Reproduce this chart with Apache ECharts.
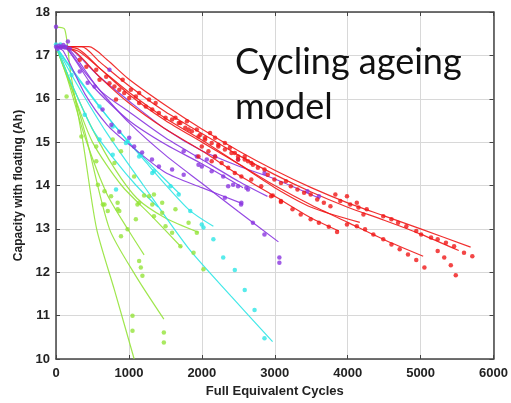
<!DOCTYPE html>
<html>
<head>
<meta charset="utf-8">
<script src="https://cdn.jsdelivr.net/npm/echarts@6/dist/echarts.min.js"></script>
<style>
html,body{margin:0;padding:0;background:#fff;}
#chart{width:511px;height:403px;}
</style>
</head>
<body>
<div id="chart"></div>
<script>
// ---- axis ticks ----
const xTicks = [0, 1000, 2000, 3000, 4000, 5000, 6000];
const yTicks = [10, 11, 12, 13, 14, 15, 16, 17, 18];
const xTitle = 'Full Equivalent Cycles';
const yTitle = 'Capacity with floating (Ah)';
const noteLines = ['Cycling ageing', 'model'];

// ---- model lines (cycles, Ah) ----
const greenLine1 = [[0,17.65],[120,17.6],[200,16.6],[370,15.0],[557,13.0],[800,11.6],[1072,10.0]];
const greenLine2 = [[0,17.2],[150,16.5],[400,15.1],[700,13.8],[1000,12.95],[1208,12.4]];
const greenLine3 = [[0,17.2],[150,16.6],[400,15.2],[733,13.0],[1100,11.9],[1479,10.92]];
const greenLine4 = [[0,17.2],[200,16.3],[500,15.0],[900,14.0],[1316,13.29],[1723,12.57]];
const greenLine5 = [[0,17.2],[200,16.4],[500,15.3],[800,14.4],[1113,13.7],[1500,13.25],[1954,12.92]];

const cyanLine1 = [[0,17.2],[300,16.3],[700,15.2],[1200,14.0],[1818,12.55],[2400,11.45],[2970,10.4]];
const cyanLine2 = [[0,17.2],[300,16.5],[700,15.6],[1200,14.6],[1818,13.45],[2158,13.06]];
const cyanLine3 = [[0,17.2],[200,16.7],[600,15.8],[1000,15.0],[1400,14.3],[1700,13.8]];
const cyanLine4 = [[0,17.2],[200,16.4],[500,15.3],[800,14.6],[1100,14.0],[1400,13.5]];

const purpleLine1 = [[0,17.2],[150,17.15],[400,16.6],[700,16.0],[1000,15.45],[1500,14.7],[2000,14.05],[2500,13.4],[3050,12.7]];
const purpleLine2 = [[0,17.2],[100,17.1],[400,16.1],[700,15.4],[1000,14.95],[1500,14.3],[2000,13.95],[2530,13.6]];
const purpleLine3 = [[0,17.2],[150,17.15],[500,16.3],[1000,15.5],[1500,14.95],[2000,14.5],[2565,13.95]];
const purpleLine4 = [[0,17.2],[200,17.15],[600,16.5],[1000,15.95],[1500,15.3],[2000,14.8],[2500,14.45],[3000,14.15],[3620,13.7]];
const purpleLine5 = [[0,17.2],[200,17.1],[600,16.2],[1000,15.7],[1500,15.1],[2000,14.6],[2500,14.1],[2900,13.75]];

const redLine1 = [[0,17.2],[450,17.2],[700,16.9],[1000,16.45],[1500,15.85],[2000,15.3],[2500,14.8],[3000,14.35],[3500,13.95],[4000,13.6],[4500,13.3],[5000,13.0],[5686,12.58]];
const redLine2 = [[0,17.2],[350,17.2],[600,16.85],[1000,16.3],[1500,15.7],[2000,15.2],[2500,14.7],[3000,14.25],[3500,13.85],[4000,13.5],[4500,13.2],[5000,12.88],[5523,12.5]];
const redLine3 = [[0,17.2],[300,17.15],[600,16.7],[1000,16.1],[1500,15.5],[2000,15.0],[2500,14.5],[3000,14.0],[3500,13.55],[4000,13.15],[4500,12.75],[5035,12.37]];
const redLine4 = [[0,17.2],[250,17.1],[600,16.5],[1000,15.9],[1500,15.3],[2000,14.8],[2500,14.25],[3000,13.75],[3500,13.25],[3880,12.95]];
const redLine5 = [[0,17.2],[300,17.1],[600,16.7],[1000,16.15],[1500,15.55],[2000,15.05],[2500,14.5],[3000,13.95],[3500,13.5],[4166,13.15]];

// ---- measured points (cycles, Ah) ----
const greenPoints = [[145,16.05],[348,15.13],[552,14.56],[552,14.9],[574,14.02],[642,13.56],[665,13.87],[665,13.56],[710,13.41],[755,13.75],[778,15.06],[801,14.52],[845,13.6],[845,13.45],[868,13.41],[891,14.79],[891,12.83],[981,12.99],[1049,11.0],[1049,10.65],[1072,14.21],[1095,13.22],[1117,13.56],[1140,13.6],[1140,12.26],[1163,12.11],[1185,11.92],[1208,13.77],[1276,13.75],[1320,13.56],[1343,13.29],[1343,13.79],[1456,13.6],[1456,13.37],[1479,10.61],[1479,10.38],[1502,13.06],[1592,12.91],[1638,13.45],[1706,12.6],[1818,13.14],[1886,12.45],[1931,12.91],[2022,12.07]];
const cyanPoints = [[0,17.25],[60,17.25],[120,17.2],[213,16.55],[394,15.63],[597,15.82],[597,15.06],[778,15.36],[778,14.71],[823,13.91],[959,14.98],[981,15.02],[1140,14.67],[1163,14.71],[1320,14.29],[1343,14.33],[1570,13.98],[1683,13.79],[1841,13.41],[1999,13.1],[2022,13.03],[2158,12.76],[2293,12.34],[2452,12.05],[2588,11.59],[2723,11.13],[2859,10.48]];
const purplePoints = [[0,17.66],[0,17.2],[20,17.15],[40,17.22],[60,17.18],[80,17.2],[100,17.24],[120,17.18],[140,17.2],[163,17.32],[190,17.15],[326,16.63],[434,16.37],[529,16.28],[638,15.75],[733,16.67],[760,15.4],[868,15.24],[1004,15.1],[1072,14.9],[1181,14.76],[1316,14.6],[1411,14.44],[1592,14.37],[1751,14.25],[1751,14.79],[1931,14.67],[1954,14.48],[1999,14.44],[2068,14.6],[2135,14.33],[2181,14.67],[2293,14.21],[2316,13.72],[2361,13.98],[2429,14.02],[2497,13.98],[2497,14.6],[2538,13.56],[2542,13.6],[2610,13.95],[2633,13.91],[2700,13.14],[2859,12.87],[2859,14.29],[3063,12.34],[3063,12.22],[3447,13.87],[3605,13.75]];
const redPoints = [[326,16.9],[416,16.74],[552,16.67],[597,16.44],[688,16.51],[733,16.36],[801,16.28],[823,15.98],[868,16.21],[914,16.44],[936,16.13],[1004,16.02],[1027,16.21],[1095,16.05],[1140,15.9],[1140,16.13],[1231,15.82],[1276,15.98],[1320,15.75],[1366,15.9],[1411,15.67],[1502,15.56],[1592,15.52],[1638,15.56],[1683,15.44],[1706,15.44],[1773,15.33],[1796,15.48],[1818,15.29],[1863,15.25],[1931,15.29],[1954,15.13],[1954,14.67],[1977,15.17],[1999,14.9],[2045,15.06],[2045,15.1],[2090,14.79],[2113,15.21],[2135,14.98],[2135,14.56],[2181,15.1],[2181,14.67],[2226,14.94],[2226,14.9],[2271,14.52],[2316,14.98],[2316,14.83],[2361,14.41],[2384,14.87],[2406,14.75],[2452,14.75],[2452,14.29],[2497,14.6],[2497,14.67],[2542,14.21],[2588,14.67],[2588,14.6],[2633,14.56],[2678,14.52],[2678,14.14],[2700,14.48],[2768,14.41],[2814,13.98],[2859,14.37],[2904,14.25],[2949,13.75],[2972,13.77],[2995,14.14],[3085,14.06],[3085,13.64],[3085,13.62],[3153,14.1],[3220,13.98],[3243,13.45],[3311,13.91],[3356,13.33],[3402,13.83],[3492,13.79],[3492,13.22],[3582,13.68],[3605,13.14],[3673,13.6],[3741,13.05],[3763,13.52],[3831,13.79],[3854,12.93],[3899,13.64],[3990,13.75],[3990,13.1],[4035,13.56],[4125,13.6],[4125,13.06],[4148,13.49],[4216,13.33],[4238,12.99],[4261,13.45],[4352,12.87],[4488,13.29],[4488,12.76],[4600,13.22],[4600,12.64],[4691,13.14],[4713,12.53],[4804,13.06],[4827,12.41],[4940,12.95],[4940,12.28],[5007,12.87],[5052,12.11],[5143,12.8],[5234,12.76],[5234,12.49],[5324,12.34],[5347,12.68],[5414,12.16],[5459,12.6],[5482,11.93],[5595,12.45],[5709,12.37]];

const GREEN = '#95e33a', CYAN = '#2ee6e6', PURPLE = '#8a35e0', RED = '#f01818';
const lineGroups = [
  [GREEN, [greenLine1, greenLine2, greenLine3, greenLine4, greenLine5]],
  [CYAN, [cyanLine1, cyanLine2, cyanLine3, cyanLine4]],
  [PURPLE, [purpleLine1, purpleLine2, purpleLine3, purpleLine4, purpleLine5]],
  [RED, [redLine1, redLine2, redLine3, redLine4, redLine5]]
];
const pointGroups = [[GREEN, greenPoints], [CYAN, cyanPoints], [PURPLE, purplePoints], [RED, redPoints]];

const series = [];
lineGroups.forEach(([c, lines]) => {
  lines.forEach(d => series.push({
    type: 'line', data: d, smooth: 0.25, showSymbol: false,
    lineStyle: {color: c, width: 1.2, opacity: 0.9}, silent: true, z: 2
  }));
});
pointGroups.forEach(([c, pts]) => series.push({
  type: 'scatter', data: pts, symbol: 'circle', symbolSize: 4.5,
  itemStyle: {color: c}, silent: true, z: 3
}));

const axisFont = {fontFamily: 'Liberation Sans, Arial, sans-serif', fontWeight: 'bold', fontSize: 13, color: '#222'};
const chart = echarts.init(document.getElementById('chart'), null, {renderer: 'canvas'});
chart.setOption({
  animation: false,
  backgroundColor: '#fff',
  grid: {left: 56, right: 13, top: 12, bottom: 43},
  xAxis: [{
    type: 'value', min: xTicks[0], max: xTicks[xTicks.length - 1], interval: 1000,
    name: xTitle, nameLocation: 'middle', nameGap: 26,
    nameTextStyle: axisFont,
    axisLine: {show: true, lineStyle: {color: '#444', width: 1.5}},
    axisTick: {show: true, inside: true, length: 4, lineStyle: {color: '#444'}},
    axisLabel: Object.assign({margin: 8, formatter: v => String(v)}, axisFont),
    splitLine: {show: true, lineStyle: {color: '#d8d8d8', width: 1}}
  }, {
    type: 'value', position: 'top', min: xTicks[0], max: xTicks[xTicks.length - 1], interval: 1000,
    axisLine: {show: true, onZero: false, lineStyle: {color: '#444', width: 1.5}},
    axisTick: {show: true, inside: true, length: 4, lineStyle: {color: '#444'}},
    axisLabel: {show: false}, splitLine: {show: false}
  }],
  yAxis: [{
    type: 'value', min: yTicks[0], max: yTicks[yTicks.length - 1], interval: 1,
    name: yTitle, nameLocation: 'middle', nameGap: 31,
    nameTextStyle: Object.assign({}, axisFont, {fontSize: 12}),
    axisLine: {show: true, onZero: false, lineStyle: {color: '#444', width: 1.5}},
    axisTick: {show: true, inside: true, length: 4, lineStyle: {color: '#444'}},
    axisLabel: Object.assign({margin: 6, formatter: v => String(v)}, axisFont),
    splitLine: {show: true, lineStyle: {color: '#d8d8d8', width: 1}}
  }, {
    type: 'value', position: 'right', min: yTicks[0], max: yTicks[yTicks.length - 1], interval: 1,
    axisLine: {show: true, onZero: false, lineStyle: {color: '#444', width: 1.5}},
    axisTick: {show: true, inside: true, length: 4, lineStyle: {color: '#444'}},
    axisLabel: {show: false}, splitLine: {show: false}
  }],
  graphic: [{
    type: 'text', left: 235, top: 40, z: 10,
    style: {text: noteLines.join('\n'), font: '36px Lato, "Open Sans", sans-serif', fill: '#111', lineHeight: 45}
  }],
  series: series
});
</script>
</body>
</html>
